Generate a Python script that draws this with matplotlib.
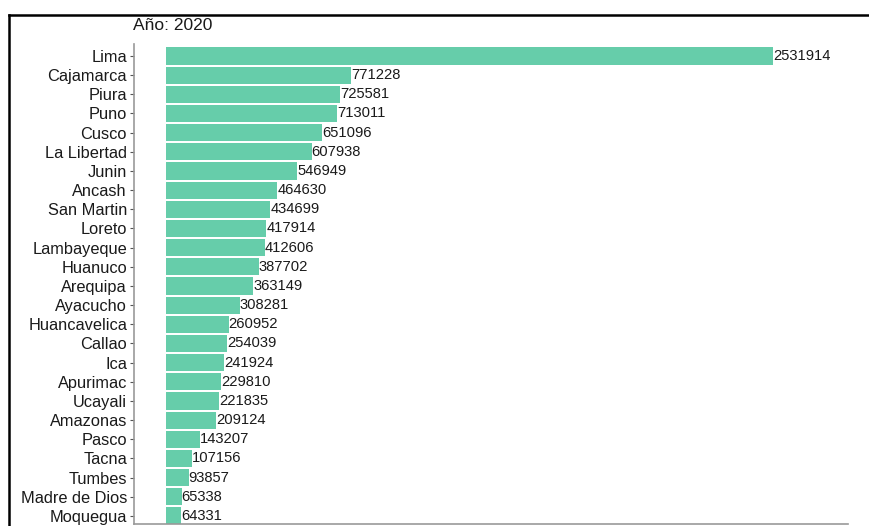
import numpy as np
import matplotlib
matplotlib.use("Agg")
from matplotlib import pyplot as plt
from matplotlib.lines import Line2D

regiones = ["Lima", "Cajamarca", "Piura", "Puno", "Cusco", "La Libertad", "Junin",
            "Ancash", "San Martin", "Loreto", "Lambayeque", "Huanuco", "Arequipa",
            "Ayacucho", "Huancavelica", "Callao", "Ica", "Apurimac", "Ucayali",
            "Amazonas", "Pasco", "Tacna", "Tumbes", "Madre de Dios", "Moquegua"]
valores = [2531914, 771228, 725581, 713011, 651096, 607938, 546949,
           464630, 434699, 417914, 412606, 387702, 363149,
           308281, 260952, 254039, 241924, 229810, 221835,
           209124, 143207, 107156, 93857, 65338, 64331]
titulo = "Año: 2020"

plt.rcParams['font.family'] = ['Liberation Sans', 'DejaVu Sans']

W, H = 869, 526
fig = plt.figure(figsize=(W / 100, H / 100), dpi=100)
ax = fig.add_axes([134 / W, 1 - 524 / H, (848 - 134) / W, (524 - 44.5) / H])

y = np.arange(len(regiones))
ax.barh(y, valores, height=0.9, color="#66CDAA")
for yi, v in zip(y, valores):
    ax.text(v, yi, str(v), va="center", ha="left", fontsize=10.6, color="#1a1a1a")

ax.set_xlim(-133500, 2845000)
ax.set_ylim(len(regiones) - 1 + 0.42, -0.6)
ax.set_yticks(y)
ax.set_yticklabels(regiones, fontsize=11.8, color="#1a1a1a")
ax.set_xticks([])
ax.tick_params(axis="y", length=3, color="#555555", pad=2)
for s in ["top", "right"]:
    ax.spines[s].set_visible(False)
for s in ["left", "bottom"]:
    ax.spines[s].set_color("#999999")
    ax.spines[s].set_linewidth(1.2)

fig.text(133 / W, 1 - 26 / H, titulo, fontsize=12.5, ha="left", va="center", color="#1a1a1a")

# borde de la captura (izquierda y arriba)
fig.add_artist(Line2D([8.5 / W, 8.5 / W], [0, 1 - 14.5 / H], transform=fig.transFigure, color="black", lw=1.8))
fig.add_artist(Line2D([8.5 / W, 1], [1 - 14.5 / H, 1 - 14.5 / H], transform=fig.transFigure, color="black", lw=1.8))

fig.savefig("out.png", dpi=100)
